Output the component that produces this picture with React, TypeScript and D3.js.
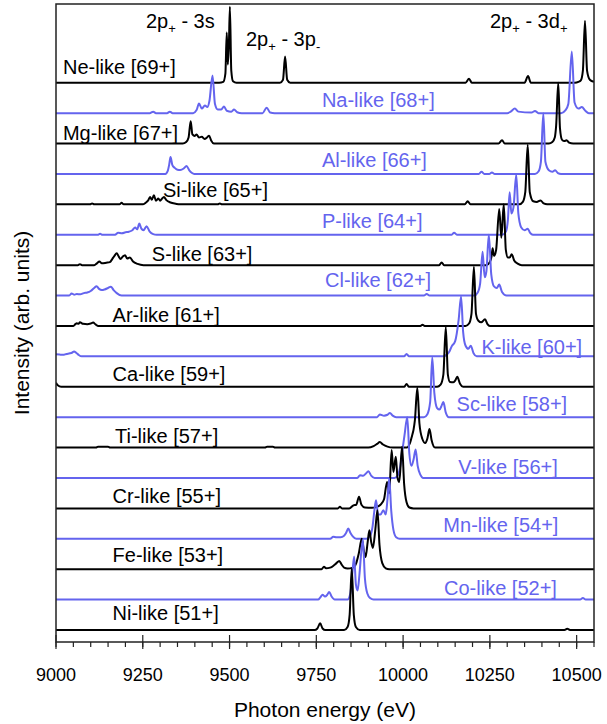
import React from "react";
import * as d3 from "d3";

type Pt = [number, number];

// Spectra: [photon energy (eV), intensity (arb. units, trace spacing = 1)]
const neLike: Pt[] = [[9000,0],[9470,0],[9482,0.03],[9488,0.3],[9492,1.65],[9495,0.6],[9498,1.2],[9501,2.5],[9505,0.4],[9510,0.05],[9520,0],[9645,0],[9654,0.1],[9660,0.86],[9666,0.1],[9675,0],[10180,0],[10190,0.13],[10198,0],[10350,0],[10360,0.22],[10368,0],[10495,0],[10505,0.03],[10512,0.08],[10518,0.4],[10524,2.04],[10530,0.4],[10538,0.1],[10550,0.03]];
const naLike: Pt[] = [[9000,0],[9270,0],[9280,0.05],[9288,0],[9320,0],[9328,0.05],[9336,0],[9395,0],[9405,0.1],[9412,0.32],[9420,0.15],[9429,0.25],[9436,0.2],[9442,0.4],[9451,1.24],[9458,0.3],[9466,0.12],[9476,0.12],[9484,0.22],[9492,0.08],[9505,0.05],[9513,0.12],[9522,0.03],[9535,0],[9595,0],[9607,0.18],[9617,0.02],[9630,0],[10300,0],[10310,0.05],[10322,0.15],[10332,0.05],[10370,0.02],[10380,0.07],[10390,0],[10455,0],[10468,0.1],[10476,0.3],[10486,2.03],[10494,0.35],[10505,0.15],[10515,0.2],[10525,0.08],[10535,0],[10550,0]];
const mgLike: Pt[] = [[9000,0],[9365,0],[9375,0.05],[9382,0.2],[9388,0.73],[9393,0.3],[9400,0.25],[9405,0.3],[9412,0.2],[9420,0.22],[9428,0.15],[9435,0.2],[9441,0.26],[9447,0.1],[9455,0],[10275,0],[10285,0.11],[10293,0],[10420,0],[10430,0.05],[10437,0.2],[10441,0.6],[10447,2.0],[10452,0.5],[10458,0.12],[10465,0.08],[10471,0.11],[10478,0.03],[10490,0],[10550,0]];
const alLike: Pt[] = [[9000,0],[9315,0],[9322,0.1],[9326,0.3],[9330,0.56],[9335,0.3],[9342,0.2],[9350,0.14],[9358,0.13],[9368,0.18],[9376,0.26],[9384,0.12],[9392,0.03],[9398,0],[10218,0],[10226,0.07],[10234,0],[10248,0],[10256,0.05],[10264,0],[10380,0],[10390,0.08],[10397,0.4],[10404,2.0],[10410,0.4],[10420,0.12],[10430,0.07],[10438,0.12],[10446,0.03],[10455,0],[10550,0]];
const siLike: Pt[] = [[9000,0],[9098,0],[9104,0.03],[9110,0],[9183,0],[9189,0.05],[9195,0],[9250,0],[9258,0.05],[9265,0.12],[9271,0.24],[9276,0.15],[9282,0.3],[9288,0.12],[9295,0.19],[9300,0.12],[9305,0.18],[9311,0.24],[9318,0.14],[9330,0.06],[9345,0.02],[9357,0],[9466,0],[9472,0.03],[9478,0],[10178,0],[10186,0.1],[10194,0],[10335,0],[10345,0.08],[10352,0.4],[10359,1.96],[10365,0.4],[10375,0.1],[10385,0.08],[10396,0.13],[10405,0.03],[10415,0],[10550,0]];
const pLike: Pt[] = [[9000,0],[9120,0],[9127,0.03],[9134,0],[9170,0],[9179,0.07],[9190,0.05],[9200,0.08],[9210,0.1],[9220,0.15],[9228,0.24],[9234,0.18],[9240,0.37],[9246,0.2],[9252,0.15],[9261,0.28],[9270,0.1],[9280,0.02],[9290,0],[10140,0],[10147,0.07],[10155,0],[10285,0],[10296,0.1],[10302,0.5],[10307,1.4],[10312,0.7],[10318,0.9],[10326,1.97],[10332,0.7],[10340,0.25],[10350,0.15],[10359,0.2],[10366,0.06],[10374,0],[10550,0]];
const sLike: Pt[] = [[9000,0],[9063,0],[9069,0.03],[9075,0],[9110,0],[9118,0.06],[9125,0.12],[9132,0.06],[9145,0.08],[9155,0.1],[9162,0.2],[9168,0.3],[9175,0.39],[9180,0.3],[9186,0.2],[9192,0.28],[9199,0.33],[9205,0.22],[9213,0.25],[9222,0.12],[9235,0.04],[9252,0],[10104,0],[10111,0.09],[10118,0],[10240,0],[10250,0.1],[10255,0.3],[10258,0.56],[10262,0.3],[10268,0.5],[10277,1.85],[10283,0.9],[10290,2.0],[10296,0.5],[10302,0.25],[10307,0.25],[10313,0.36],[10320,0.15],[10330,0.05],[10342,0],[10550,0]];
const clLike: Pt[] = [[9000,0],[9038,0],[9045,0.07],[9052,0.03],[9060,0.05],[9070,0.04],[9080,0.08],[9090,0.1],[9100,0.15],[9110,0.25],[9117,0.31],[9124,0.22],[9132,0.18],[9140,0.2],[9150,0.25],[9158,0.29],[9166,0.18],[9175,0.08],[9189,0],[10060,0],[10068,0.05],[10076,0],[10205,0],[10215,0.1],[10222,0.4],[10229,1.44],[10235,0.6],[10240,0.8],[10247,2.0],[10254,0.7],[10262,0.3],[10270,0.25],[10277,0.36],[10285,0.12],[10298,0],[10550,0]];
const arLike: Pt[] = [[9000,0],[9050,0],[9056,0.06],[9060,0.09],[9065,0.07],[9069,0.12],[9078,0.07],[9090,0.06],[9100,0.08],[9107,0.11],[9114,0.05],[9122,0],[10050,0],[10056,0.04],[10062,0],[10180,0],[10190,0.08],[10197,0.4],[10204,1.95],[10210,0.4],[10217,0.17],[10225,0.12],[10236,0.22],[10243,0.06],[10250,0],[10550,0]];
const kLike: Pt[] = [[9000,0.07],[9010,0.06],[9020,0.05],[9030,0.08],[9040,0.1],[9046,0.12],[9052,0.16],[9058,0.12],[9065,0.05],[9074,0],[10003,0],[10010,0.08],[10017,0],[10115,0],[10125,0.05],[10133,0.15],[10140,0.33],[10150,0.5],[10160,1.2],[10167,1.97],[10173,0.8],[10180,0.35],[10188,0.25],[10195,0.35],[10203,0.1],[10212,0],[10550,0]];
const caLike: Pt[] = [[9000,0.13],[9005,0.05],[9015,0],[10003,0],[10010,0.09],[10017,0],[10098,0],[10108,0.07],[10116,0.4],[10123,1.97],[10129,0.4],[10135,0.16],[10145,0.15],[10150,0.2],[10156,0.33],[10164,0.1],[10173,0],[10550,0]];
const scLike: Pt[] = [[9000,0],[9925,0],[9933,0.09],[9945,0.05],[9955,0.08],[9962,0.14],[9970,0.05],[9980,0],[10060,0],[10070,0.1],[10078,0.5],[10084,1.97],[10090,0.8],[10098,0.3],[10105,0.25],[10110,0.35],[10116,0.5],[10123,0.15],[10132,0],[10550,0]];
const tiLike: Pt[] = [[9000,0],[9115,0],[9121,0.03],[9150,0.03],[9156,0],[9602,0],[9608,0.03],[9625,0.03],[9631,0],[9900,0],[9915,0.05],[9925,0.12],[9933,0.18],[9942,0.1],[9955,0.03],[9970,0],[10010,0],[10020,0.15],[10026,0.4],[10030,0.58],[10034,0.9],[10041,1.97],[10047,0.8],[10055,0.3],[10064,0.15],[10070,0.3],[10076,0.61],[10082,0.25],[10092,0],[10550,0]];
const vLike: Pt[] = [[9000,0],[9868,0],[9876,0.09],[9885,0.07],[9893,0.15],[9900,0.22],[9908,0.08],[9918,0],[9975,0],[9985,0.1],[9992,0.4],[9998,0.91],[10004,1.4],[10012,2.0],[10018,0.8],[10024,0.4],[10030,0.6],[10036,0.94],[10042,0.4],[10050,0.1],[10058,0],[10550,0]];
const crLike: Pt[] = [[9000,0],[9812,0],[9818,0.05],[9824,0],[9845,0],[9857,0.1],[9865,0.12],[9873,0.38],[9880,0.12],[9890,0.03],[9910,0.02],[9925,0.05],[9935,0.12],[9945,0.3],[9954,0.87],[9960,0.5],[9967,1.92],[9972,1.2],[9979,1.7],[9984,1.0],[9989,0.87],[9997,2.03],[10003,0.8],[10010,0.2],[10018,0.03],[10030,0],[10550,0]];
const mnLike: Pt[] = [[9000,0],[9790,0],[9799,0.07],[9808,0.05],[9820,0.05],[9830,0.1],[9836,0.2],[9842,0.34],[9848,0.2],[9855,0.08],[9865,0],[9895,0],[9905,0.1],[9912,0.4],[9917,0.9],[9922,1.27],[9928,0.8],[9935,0.8],[9943,0.94],[9950,0.8],[9955,1.3],[9960,1.98],[9966,0.9],[9972,0.3],[9980,0.05],[9990,0],[10550,0]];
const feLike: Pt[] = [[9000,0],[9765,0],[9772,0.08],[9778,0.03],[9790,0.05],[9800,0.12],[9808,0.2],[9816,0.27],[9823,0.15],[9830,0.05],[9840,0.02],[9855,0.05],[9865,0.2],[9872,0.5],[9881,1.0],[9887,0.6],[9892,0.4],[9898,0.9],[9903,1.28],[9908,0.9],[9913,0.7],[9920,1.3],[9926,1.94],[9932,0.8],[9940,0.2],[9950,0.03],[9960,0],[10550,0]];
const coLike: Pt[] = [[9000,0],[9755,0],[9762,0.08],[9768,0.16],[9775,0.1],[9781,0.15],[9787,0.25],[9794,0.1],[9803,0],[9840,0],[9848,0.2],[9854,0.9],[9859,1.42],[9864,0.5],[9869,0.3],[9874,0.8],[9879,1.5],[9884,1.97],[9890,0.7],[9897,0.2],[9905,0.05],[9915,0],[10510,0],[10518,0.05],[10526,0],[10550,0]];
const niLike: Pt[] = [[9000,0],[9745,0],[9753,0.05],[9761,0.22],[9768,0.05],[9776,0],[9830,0],[9840,0.1],[9846,0.5],[9852,2.03],[9858,0.5],[9864,0.1],[9875,0],[10465,0],[10473,0.04],[10481,0],[10550,0]];

// Top to bottom
const spectra: Pt[][] = [neLike, naLike, mgLike, alLike, siLike, pLike, sLike, clLike, arLike, kLike, caLike, scLike, tiLike, vLike, crLike, mnLike, feLike, coLike, niLike];
const ionNames = ["Ne", "Na", "Mg", "Al", "Si", "P", "S", "Cl", "Ar", "K", "Ca", "Sc", "Ti", "V", "Cr", "Mn", "Fe", "Co", "Ni"];
const charges = [69, 68, 67, 66, 65, 64, 63, 62, 61, 60, 59, 58, 57, 56, 55, 54, 53, 52, 51];

// Label placement: start energy and lift above the trace baseline (trace units)
const labelEnergy = [9020, 9766, 9020, 9766, 9308, 9766, 9276, 9775, 9163, 10226, 9163, 10154, 9170, 10159, 9163, 10116, 9163, 10118, 9163];
const labelLift = [0.53, 0.45, 0.36, 0.45, 0.49, 0.46, 0.36, 0.53, 0.36, 0.33, 0.44, 0.45, 0.38, 0.36, 0.4, 0.47, 0.46, 0.38, 0.55];

const xTicks = [9000, 9250, 9500, 9750, 10000, 10250, 10500];
const xMinorTicks = d3.range(9000, 10551, 50);

const W = 607;
const H = 724;
const plot = { left: 56, right: 594, top: 4, bottom: 642 };
const FONT = "'Liberation Sans', Arial, Helvetica, sans-serif";
const BLUE = "#6464EE";

export default function App() {
  const x = d3.scaleLinear().domain([9000, 10550]).range([plot.left, plot.right]);
  const y = d3.scaleLinear().domain([-0.395, 20.59]).range([plot.bottom, plot.top]);
  const n = spectra.length;

  const line = (offset: number) =>
    d3
      .line<Pt>()
      .x((d) => x(d[0]))
      .y((d) => y(d[1] + offset))
      .curve(d3.curveMonotoneX);

  return (
    <svg width={W} height={H} style={{ display: "block", position: "absolute", left: 0, top: 0, background: "#fff" }} fontFamily={FONT}>
      <defs>
        <clipPath id="plotClip">
          <rect x={plot.left} y={plot.top} width={plot.right - plot.left} height={plot.bottom - plot.top} />
        </clipPath>
      </defs>

      <g clipPath="url(#plotClip)">
        {spectra.map((s, i) => {
          const offset = n - 1 - i;
          return (
            <path
              key={ionNames[i]}
              d={line(offset)(s) || ""}
              fill="none"
              stroke={i % 2 === 0 ? "#000" : BLUE}
              strokeWidth={2}
              strokeLinejoin="round"
            />
          );
        })}
      </g>

      {spectra.map((_, i) => {
        const offset = n - 1 - i;
        return (
          <text
            key={"lab" + i}
            x={x(labelEnergy[i])}
            y={y(offset + labelLift[i])}
            dy="0.36em"
            fontSize={20}
            fill={i % 2 === 0 ? "#000" : BLUE}
          >
            {`${ionNames[i]}-like [${charges[i]}+]`}
          </text>
        );
      })}

      {/* transition annotations */}
      <g fontSize={20} fill="#000">
        <text x={146} y={28}>
          2p<tspan fontSize={13} dy={5}>+</tspan>
          <tspan dy={-5}> - 3s</tspan>
        </text>
        <text x={246} y={46}>
          2p<tspan fontSize={13} dy={5}>+</tspan>
          <tspan dy={-5}> - 3p</tspan>
          <tspan fontSize={13} dy={5}>-</tspan>
        </text>
        <text x={490} y={28}>
          2p<tspan fontSize={13} dy={5}>+</tspan>
          <tspan dy={-5}> - 3d</tspan>
          <tspan fontSize={13} dy={5}>+</tspan>
        </text>
      </g>

      {/* frame */}
      <rect
        x={plot.left}
        y={plot.top}
        width={plot.right - plot.left}
        height={plot.bottom - plot.top}
        fill="none"
        stroke="#222"
        strokeWidth={1.5}
      />

      {/* x axis ticks */}
      <g stroke="#222" strokeWidth={1.2}>
        {xMinorTicks.map((t) => (
          <line key={"m" + t} x1={x(t)} x2={x(t)} y1={plot.bottom} y2={plot.bottom + 5} />
        ))}
        {xTicks.map((t) => (
          <line key={"M" + t} x1={x(t)} x2={x(t)} y1={plot.bottom - 7} y2={plot.bottom + 7} />
        ))}
      </g>
      <g fontSize={18} fill="#000" textAnchor="middle">
        {xTicks.map((t) => (
          <text key={"t" + t} x={x(t)} y={681}>
            {t}
          </text>
        ))}
      </g>

      <text x={(plot.left + plot.right) / 2} y={717} fontSize={21} textAnchor="middle" fill="#000">
        Photon energy (eV)
      </text>
      <text
        transform={`translate(29, ${(plot.top + plot.bottom) / 2}) rotate(-90)`}
        fontSize={21}
        textAnchor="middle"
        fill="#000"
      >
        Intensity (arb. units)
      </text>
    </svg>
  );
}
